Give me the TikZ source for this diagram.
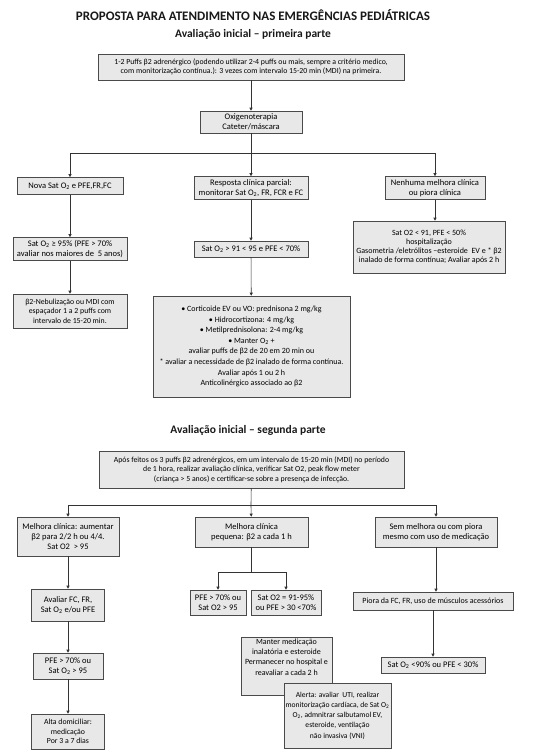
\documentclass[tikz,border=0pt]{standalone}
\usepackage{fontspec}
\setmainfont{Carlito}
\usepackage{tikz}
\usetikzlibrary{arrows.meta,positioning}
\definecolor{boxfill}{HTML}{E8E8E8}
\definecolor{boxline}{HTML}{4A4A4A}
\definecolor{wire}{HTML}{333333}

\begin{document}
\begin{tikzpicture}[x=1pt,y=-1pt,font=\fontsize{8.5}{9.6}\selectfont,
  bx/.style={draw=boxline,fill=boxfill,align=center,inner sep=1pt,line width=0.6pt},
  sm/.style={font=\fontsize{8}{9.2}\selectfont},
  md/.style={font=\fontsize{7.8}{9.4}\selectfont},
  ttl/.style={font=\fontsize{13}{14}\selectfont\bfseries,text=black!90},
  sub/.style={font=\fontsize{11.5}{13}\selectfont\bfseries,text=black!90},
  ln/.style={draw=wire,line width=0.6pt},
  a/.style={-{Triangle[length=3pt,width=3pt]},draw=wire,line width=0.6pt}]

\useasboundingbox[fill=white] (0,0) rectangle (550,753);

\node[ttl](T1) at (253,15){PROPOSTA PARA ATENDIMENTO NAS EMERGÊNCIAS PEDIÁTRICAS};
\node[sub](T2) at (253,34){Avaliação inicial – primeira parte};

\node[bx,md,minimum width=306pt,minimum height=26pt](B1) at (251,67)
  {1-2 Puffs β2 adrenérgico (podendo utilizar 2-4 puffs ou mais, sempre a critério medico,\\
   com monitorização contínua.): 3 vezes com intervalo 15-20 min (MDI) na primeira.};
\node[bx,minimum width=102pt,minimum height=22pt](Oxi) at (251,122){Oxigenoterapia\\Cateter/máscara};
\coordinate (J1) at (251,153);

\node[bx,minimum width=106pt,minimum height=17pt](N1) at (70,186){Nova Sat O\textsubscript{2} e PFE,FR,FC};
\node[bx,minimum width=114pt,minimum height=23pt](R1) at (251,188)
  {Resposta clínica parcial:\\monitorar Sat O\textsubscript{2}, FR, FCR e FC};
\node[bx,minimum width=100pt,minimum height=23pt](H1) at (435,188){Nenhuma melhora clínica\\ou piora clínica};

\node[bx,minimum width=114pt,minimum height=23pt](N2) at (70,249)
  {Sat O\textsubscript{2} ≥ 95\% (PFE > 70\%\\avaliar nos maiores de \ 5 anos)};
\node[bx,minimum width=114pt,minimum height=16pt](R2) at (251,249){Sat O\textsubscript{2} > 91 < 95 e PFE < 70\%};
\node[bx,sm,minimum width=152pt,minimum height=52pt](H2) at (429,247)
  {Sat O2 < 91, PFE < 50\%\\hospitalização\\Gasometria /eletrólitos –esteroide \ EV e * β2\\inalado de forma contínua; Avaliar após 2 h};

\node[bx,md,minimum width=114pt,minimum height=34pt](N3) at (70,311)
  {β2-Nebulização ou MDI com\\espaçador 1 a 2 puffs com\\intervalo de 15-20 min.};
\node[bx,minimum width=197pt,minimum height=101pt,font=\fontsize{8}{10.6}\selectfont](R3) at (251.5,346.5)
  {• Corticoide EV ou VO: prednisona 2 mg/kg\\• Hidrocortizona: 4 mg/kg\\• Metilprednisolona: 2-4 mg/kg\\
   • Manter O\textsubscript{2} +\\avaliar puffs de β2 de 20 em 20 min ou\\* avaliar a necessidade de β2 inalado de forma contínua.\\
   Avaliar após 1 ou 2 h\\Anticolinérgico associado ao β2};

\node[sub](T3) at (248,430){Avaliação inicial – segunda parte};

\node[bx,md,minimum width=305pt,minimum height=37pt](B2) at (251.5,469.5)
  {Após feitos os 3 puffs β2 adrenérgicos, em um intervalo de 15-20 min (MDI) no período\\
   de 1 hora, realizar avaliação clínica, verificar Sat O2, peak flow meter\\
   (criança > 5 anos) e certificar-se sobre a presença de infecção.};
\coordinate (J2) at (251,505);

\node[bx,minimum width=102pt,minimum height=39pt](M1) at (68,536.5)
  {Melhora clínica: aumentar\\β2 para 2/2 h ou 4/4.\\Sat O2 \ > 95};
\node[bx,minimum width=113pt,minimum height=30pt](P1) at (251.5,532){Melhora clínica\\pequena: β2 a cada 1 h};
\node[bx,minimum width=122pt,minimum height=30pt](S1) at (436,532){Sem melhora ou com piora\\mesmo com uso de medicação};

\coordinate (J3) at (251.5,572);
\node[bx,minimum width=56pt,minimum height=25pt](P2) at (218,602.5){PFE > 70\% ou\\Sat O2 > 95};
\node[bx,minimum width=70pt,minimum height=25pt](P3) at (286,602.5){Sat O2 = 91-95\%\\ou PFE > 30 <70\%};

\node[bx,minimum width=73pt,minimum height=32pt](M2) at (68,605){Avaliar FC, FR,\\Sat O\textsubscript{2} e/ou PFE};
\node[bx,minimum width=70pt,minimum height=26pt](M3) at (68,666){PFE > 70\% ou\\Sat O\textsubscript{2} > 95};
\node[bx,md,minimum width=73pt,minimum height=35pt](M4) at (68,731.5){Alta domiciliar:\\medicação\\Por 3 a 7 dias};

\node[bx,sm,minimum width=160pt,minimum height=18pt](S2) at (433,601){Piora da FC, FR, uso de músculos acessórios};
\node[bx,minimum width=104pt,minimum height=16pt](S3) at (433,665){Sat O\textsubscript{2} <90\% ou PFE < 30\%};

\node[bx,minimum width=91pt,minimum height=58pt,text depth=18pt,font=\fontsize{8}{10.2}\selectfont](K1) at (286.5,666)
  {Manter medicação\\inalatória e esteroide\\Permanecer no hospital e\\reavaliar a cada 2 h};
\node[bx,minimum width=107pt,minimum height=65pt,font=\fontsize{7.6}{10.2}\selectfont](K2) at (337.5,715.5)
  {Alerta: avaliar \ UTI, realizar\\monitorização cardíaca, de Sat O\textsubscript{2}\\O\textsubscript{2}, admnitrar salbutamol EV,\\esteroide, ventilação\\não invasiva (VNI)};

\draw[a](B1)--(Oxi);
\draw[ln](Oxi)--(J1);
\draw[a](J1)-|(N1.north); \draw[a](J1)--(R1); \draw[a](J1)-|(H1.north);
\draw[a](N1)--(N2); \draw[a](N2)--(N3);
\draw[a](R1)--(R2); \draw[a](R2)--(R3);
\draw[a](H1.south)--(H1.south|-H2.north);

\draw[ln](B2)--(J2);
\draw[a](J2)-|(M1.north); \draw[a](J2)--(P1); \draw[a](J2)-|(S1.north);
\draw[ln](P1)--(J3);
\draw[a](J3)-|(P2.north); \draw[a](J3)-|(P3.north);
\draw[a](M1)--(M2); \draw[a](M2)--(M3); \draw[a](M3)--(M4);
\draw[a](S1.south)--(S1.south|-S2.north); \draw[a](S2)--(S3);
\end{tikzpicture}
\end{document}
